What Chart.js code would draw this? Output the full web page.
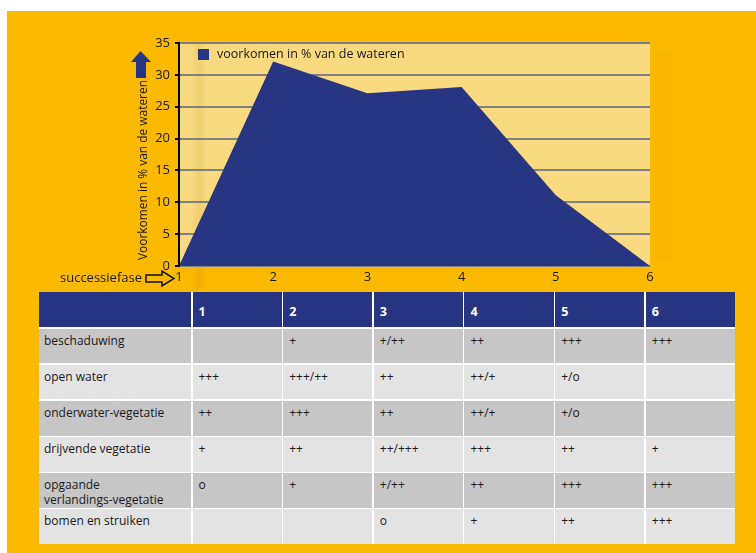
<!DOCTYPE html>
<html>
<head>
<meta charset="utf-8">
<script src="https://cdn.jsdelivr.net/npm/chart.js@4/dist/chart.umd.min.js"></script>
<style>
  html, body { margin:0; padding:0; background:#ffffff; }
  body { width:756px; height:553px; position:relative; overflow:hidden; font-family:"Open Sans", "DejaVu Sans", sans-serif; }
  #bg { position:absolute; left:7px; top:11px; width:749px; height:542px; background:#FBB900; }
  #chartWrap { position:absolute; left:0; top:0; width:756px; height:292px; }
  #tbl { position:absolute; left:39px; top:292px; width:696px; display:grid;
         grid-template-columns:152px repeat(6, 1fr); grid-template-rows:35px repeat(6, 34.7px);
         gap:1.5px; background:#ffffff; }
  #tbl div { font-size:12px; line-height:15px; color:#1a1a1a; padding:4px 0 0 6px; box-sizing:border-box; overflow:hidden; }
  #tbl div.h { background:#283582; color:#ffffff; font-weight:bold; font-size:12.5px; padding:12px 0 0 6px; }
  #tbl div.d { background:#C6C6C6; }
  #tbl div.l { background:#E3E3E3; }
  #tbl div.first { padding-left:5px; }
</style>
</head>
<body>
<div id="bg"></div>
<div id="chartWrap"><canvas id="c" width="756" height="292"></canvas></div>
<div id="tbl"></div>
<script>
// ---- data ----
const phases = ['1', '2', '3', '4', '5', '6'];
const occurrence = [0, 32.1, 27.1, 28.1, 11.1, 0];
const yTicks = [0, 5, 10, 15, 20, 25, 30, 35];
const seriesLabel = 'voorkomen in % van de wateren';
const yTitle = 'Voorkomen in % van de wateren';
const xTitle = 'successiefase';

const rowLabels = ['beschaduwing', 'open water', 'onderwater-vegetatie', 'drijvende vegetatie', 'opgaande verlandings-vegetatie', 'bomen en struiken'];
const beschaduwing = ['', '+', '+/++', '++', '+++', '+++'];
const openWater = ['+++', '+++/++', '++', '++/+', '+/o', ''];
const onderwaterVegetatie = ['++', '+++', '++', '++/+', '+/o', ''];
const drijvendeVegetatie = ['+', '++', '++/+++', '+++', '++', '+'];
const opgaandeVegetatie = ['o', '+', '+/++', '++', '+++', '+++'];
const bomenStruiken = ['', '', 'o', '+', '++', '+++'];

// ---- table ----
const rows = [beschaduwing, openWater, onderwaterVegetatie, drijvendeVegetatie, opgaandeVegetatie, bomenStruiken];
const tbl = document.getElementById('tbl');
function cell(text, cls) { const d = document.createElement('div'); d.className = cls; d.textContent = text; tbl.appendChild(d); return d; }
cell('', 'h first');
phases.forEach(p => cell(p, 'h'));
rows.forEach((r, i) => {
  const cls = i % 2 === 0 ? 'd' : 'l';
  const c0 = cell('', cls + ' first');
  if (rowLabels[i] === 'opgaande verlandings-vegetatie') { c0.innerHTML = 'opgaande<br>verlandings-vegetatie'; }
  else c0.textContent = rowLabels[i];
  r.forEach(v => cell(v, cls));
});

// ---- chart ----
const BLUE = '#283582';
const FONT = '"Open Sans", "DejaVu Sans", sans-serif';

const decor = {
  id: 'decor',
  beforeDraw(chart) {
    const {ctx, chartArea: a} = chart;
    ctx.save();
    ctx.fillStyle = '#F9DA80';
    ctx.fillRect(a.left, a.top, a.right - a.left, a.bottom - a.top);
    // soft shadow strips
    const g = ctx.createLinearGradient(a.left + 12, 0, a.left + 28, 0);
    g.addColorStop(0, 'rgba(190,140,20,0)');
    g.addColorStop(0.5, 'rgba(190,140,20,0.15)');
    g.addColorStop(1, 'rgba(190,140,20,0)');
    ctx.fillStyle = g;
    ctx.fillRect(a.left + 12, a.top, 16, 290 - a.top);
    const g2 = ctx.createLinearGradient(a.right + 2, 0, a.right + 24, 0);
    g2.addColorStop(0, 'rgba(190,140,20,0)');
    g2.addColorStop(0.5, 'rgba(190,140,20,0.08)');
    g2.addColorStop(1, 'rgba(190,140,20,0)');
    ctx.fillStyle = g2;
    ctx.fillRect(a.right + 2, a.top + 10, 22, a.bottom - a.top - 15);
    ctx.restore();
  },
  afterDraw(chart) {
    const {ctx, chartArea: a} = chart;
    const ds = chart.data.datasets[0];
    ctx.save();
    // legend
    ctx.fillStyle = ds.backgroundColor;
    ctx.fillRect(a.left + 19, a.top + 6, 11, 11);
    ctx.fillStyle = '#1a1a1a';
    ctx.font = '12.5px ' + FONT;
    ctx.textBaseline = 'middle';
    ctx.textAlign = 'left';
    ctx.fillText(ds.label, a.left + 38, a.top + 11.5);
    // y title (reads bottom to top, starting at y=260)
    ctx.save();
    ctx.font = '12.5px ' + FONT;
    const w = ctx.measureText(yTitle).width;
    ctx.translate(143, 260);
    ctx.rotate(-Math.PI / 2);
    ctx.textAlign = 'left';
    ctx.textBaseline = 'middle';
    ctx.fillText(yTitle, 0, 0, 180);
    ctx.restore();
    // up arrow
    ctx.fillStyle = BLUE;
    ctx.beginPath();
    ctx.moveTo(140.5, 51); ctx.lineTo(151, 62); ctx.lineTo(146, 62); ctx.lineTo(146, 78);
    ctx.lineTo(136, 78); ctx.lineTo(136, 62); ctx.lineTo(131, 62); ctx.closePath();
    ctx.fill();
    // x title + outlined arrow
    ctx.fillStyle = '#1a1a1a';
    ctx.font = '13px ' + FONT;
    ctx.textAlign = 'left';
    ctx.textBaseline = 'middle';
    ctx.fillText(xTitle, 60, 278.5);
    ctx.strokeStyle = '#111';
    ctx.lineWidth = 1.5;
    ctx.beginPath();
    ctx.moveTo(146, 275); ctx.lineTo(162, 275); ctx.lineTo(162, 271); ctx.lineTo(174, 278.5);
    ctx.lineTo(162, 286); ctx.lineTo(162, 282); ctx.lineTo(146, 282); ctx.closePath();
    ctx.stroke();
    ctx.restore();
  }
};

new Chart(document.getElementById('c'), {
  type: 'line',
  data: {
    labels: phases,
    datasets: [{
      label: seriesLabel,
      data: occurrence,
      fill: 'origin',
      backgroundColor: BLUE,
      borderColor: BLUE,
      borderWidth: 0,
      pointRadius: 0,
      tension: 0
    }]
  },
  options: {
    responsive: false,
    animation: false,
    events: [],
    layout: { padding: { left: 0, top: 43, right: 106, bottom: 0 } },
    plugins: { legend: { display: false }, tooltip: { enabled: false } },
    scales: {
      x: {
        offset: false,
        grid: { display: false, drawTicks: false },
        border: { display: false },
        ticks: { color: '#1a1a1a', font: { size: 13, family: FONT }, padding: 3, maxRotation: 0, autoSkip: false },
        afterFit(s) { s.height = 26; }
      },
      y: {
        min: 0, max: 35,
        afterBuildTicks(s) { s.ticks = yTicks.map(v => ({ value: v })); },
        grid: { color: '#808080', lineWidth: 2, tickColor: '#000', tickLength: 4, tickWidth: 2 },
        border: { display: true, color: '#000', width: 2 },
        ticks: { color: '#1a1a1a', font: { size: 13, family: FONT }, padding: 5 },
        afterFit(s) { s.width = 179; }
      }
    }
  },
  plugins: [decor]
});
</script>
</body>
</html>
